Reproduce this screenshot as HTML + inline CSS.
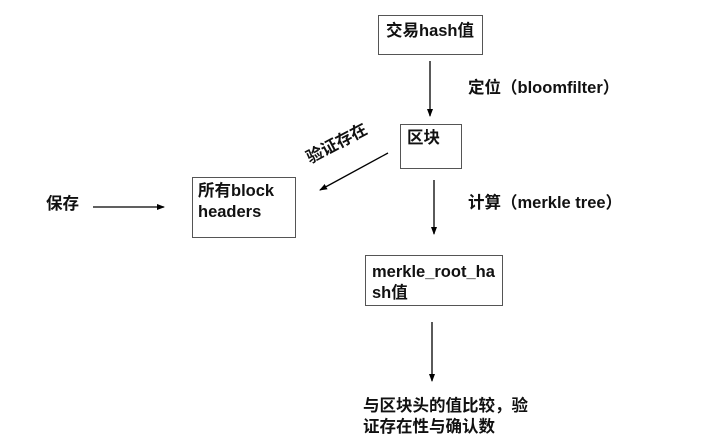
<!DOCTYPE html>
<html><head><meta charset="utf-8"><style>
body{margin:0;width:710px;height:441px;background:#fff;position:relative;overflow:hidden;font-family:"Liberation Sans","Noto Sans CJK SC",sans-serif;font-weight:bold;font-size:16.5px;color:#111}
.b{position:absolute;border:1.5px solid #555;box-sizing:border-box;background:#fff}
.t{position:absolute;line-height:21px;white-space:nowrap}
</style></head><body>
<svg width="710" height="441" style="position:absolute;left:0;top:0">
<defs><marker id="a" markerWidth="8" markerHeight="8" refX="7" refY="4" orient="auto" markerUnits="userSpaceOnUse"><path d="M0,1 L8,4 L0,7z" fill="#000"/></marker></defs>
<g stroke="#000" stroke-width="1.3" fill="none">
<line x1="430" y1="61" x2="430" y2="116" marker-end="url(#a)"/>
<line x1="388" y1="153" x2="320" y2="190" marker-end="url(#a)"/>
<line x1="434" y1="180" x2="434" y2="234" marker-end="url(#a)"/>
<line x1="432" y1="322" x2="432" y2="381" marker-end="url(#a)"/>
<line x1="93" y1="207" x2="164" y2="207" marker-end="url(#a)"/>
</g></svg>
<div class="b" style="left:378px;top:15px;width:105px;height:40px"></div>
<div class="t" style="left:386px;top:21px">交易hash值</div>
<div class="b" style="left:400px;top:124px;width:62px;height:45px"></div>
<div class="t" style="left:407px;top:128px">区块</div>
<div class="b" style="left:192px;top:177px;width:104px;height:61px"></div>
<div class="t" style="left:198px;top:181px">所有block<br>headers</div>
<div class="b" style="left:365px;top:255px;width:138px;height:51px"></div>
<div class="t" style="left:372px;top:262px">merkle_root_ha<br>sh值</div>
<div class="t" style="left:468px;top:78px">定位（bloomfilter）</div>
<div class="t" style="left:468px;top:193px">计算（merkle tree）</div>
<div class="t" style="left:46px;top:194px">保存</div>
<div class="t" style="left:313px;top:148px;transform:rotate(-28deg);transform-origin:left bottom">验证存在</div>
<div class="t" style="left:363px;top:396px;line-height:21px">与区块头的值比较，验<br>证存在性与确认数</div>
</body></html>
